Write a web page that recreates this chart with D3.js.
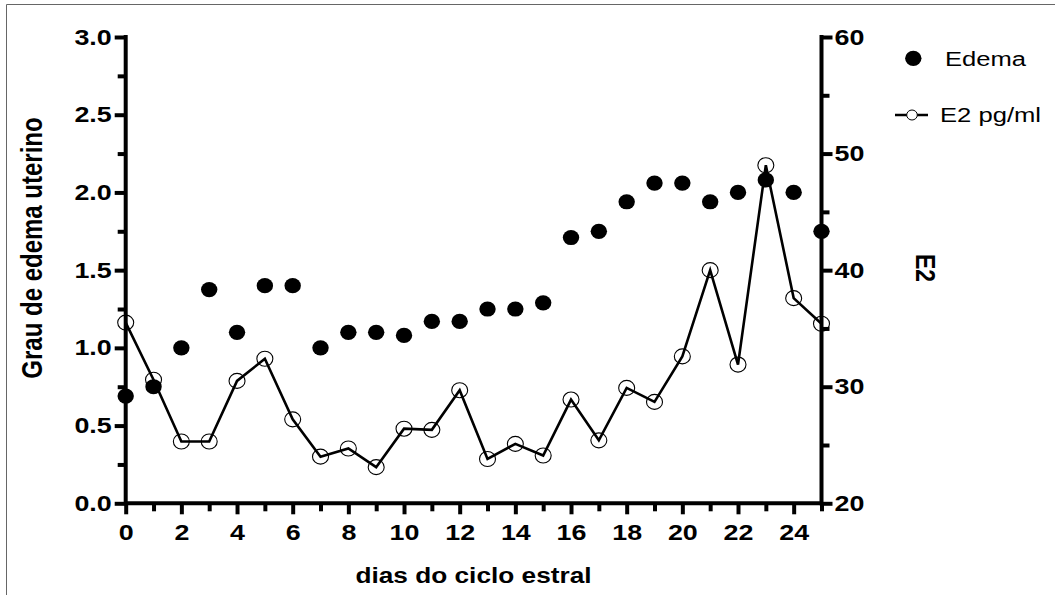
<!DOCTYPE html>
<html>
<head>
<meta charset="utf-8">
<script src="https://cdn.jsdelivr.net/npm/d3@7"></script>
<style>
  body { margin: 0; background: white; }
  svg { display: block; }
</style>
</head>
<body>
<div id="chart"></div>
<script>
// dias do ciclo estral
var days = d3.range(0, 26);
// grau de edema uterino (left axis)
var edema = [0.69, 0.75, 1.0, 1.375, 1.1, 1.4, 1.4, 1.0, 1.1, 1.1, 1.08, 1.17, 1.17,
             1.25, 1.25, 1.29, 1.71, 1.75, 1.94, 2.06, 2.06, 1.94, 2.0, 2.08, 2.0, 1.75];
// E2 pg/ml (right axis)
var e2 = [35.5, 30.6, 25.3, 25.3, 30.5, 32.4, 27.2, 24.0, 24.7, 23.1, 26.4, 26.3, 29.7,
          23.8, 25.1, 24.1, 28.9, 25.4, 29.9, 28.7, 32.6, 40.0, 31.9, 49.0, 37.6, 35.4];

var xMajor = d3.range(0, 26, 2);
var xMinor = d3.range(1, 26, 2);
var leftMajor = [0, 0.5, 1.0, 1.5, 2.0, 2.5, 3.0];
var leftMinor = [0.25, 0.75, 1.25, 1.75, 2.25, 2.75];
var rightMajor = [20, 30, 40, 50, 60];
var rightMinor = [25, 35, 45, 55];

var W = 1055, H = 595;
var SX = 1.22; // text in the reference is wider than tall
var font = "'Liberation Sans', Arial, Helvetica, sans-serif";

var svg = d3.select("#chart")
    .append("svg")
    .attr("width", W)
    .attr("height", H);

// frame
svg.append("line").attr("x1", 6.5).attr("x2", W).attr("y1", 4.5).attr("y2", 4.5)
    .style("stroke", "#666").style("stroke-width", 1);
svg.append("line").attr("x1", 6.5).attr("x2", 6.5).attr("y1", 4.5).attr("y2", H)
    .style("stroke", "#666").style("stroke-width", 1);

var x = d3.scaleLinear().domain([0, 25]).range([125.7, 821.5]);
var yL = d3.scaleLinear().domain([0, 3]).range([503.3, 37]);
var yR = d3.scaleLinear().domain([20, 60]).range([503.3, 37]);

function stretch(sel) {
    sel.each(function() {
        var t = d3.select(this);
        var tx = +t.attr("x") || 0;
        t.attr("x", tx / SX).attr("transform", "scale(" + SX + ",1)");
    });
}

function styleAxis(g) {
    g.select(".domain").remove();
    g.selectAll(".tick line").style("stroke", "black").style("stroke-width", 4);
    g.selectAll(".tick text")
        .style("font-family", font)
        .style("font-weight", "bold")
        .style("font-size", "22px")
        .style("fill", "black");
}

// minor ticks
svg.append("g").attr("transform", "translate(0," + yL(0) + ")")
    .call(d3.axisBottom(x).tickValues(xMinor).tickSize(8).tickFormat(""))
    .call(styleAxis);
svg.append("g").attr("transform", "translate(" + x(0) + ",0)")
    .call(d3.axisLeft(yL).tickValues(leftMinor).tickSize(8).tickFormat(""))
    .call(styleAxis);
svg.append("g").attr("transform", "translate(" + x(25) + ",0)")
    .call(d3.axisRight(yR).tickValues(rightMinor).tickSize(8).tickFormat(""))
    .call(styleAxis);

// major ticks
var gx = svg.append("g").attr("transform", "translate(0," + yL(0) + ")")
    .call(d3.axisBottom(x).tickValues(xMajor).tickSize(11).tickPadding(10).tickFormat(d3.format("d")))
    .call(styleAxis);
gx.selectAll(".tick text").call(stretch);

var gl = svg.append("g").attr("transform", "translate(" + x(0) + ",0)")
    .call(d3.axisLeft(yL).tickValues(leftMajor).tickSize(11).tickPadding(3).tickFormat(d3.format(".1f")))
    .call(styleAxis);
gl.selectAll(".tick text").call(stretch);

var gr = svg.append("g").attr("transform", "translate(" + x(25) + ",0)")
    .call(d3.axisRight(yR).tickValues(rightMajor).tickSize(11).tickPadding(2).tickFormat(d3.format("d")))
    .call(styleAxis);
gr.selectAll(".tick text").call(stretch);

// axis lines
svg.append("line").attr("x1", x(0)).attr("x2", x(25)).attr("y1", yL(0)).attr("y2", yL(0))
    .style("stroke", "black").style("stroke-width", 4);
svg.append("line").attr("x1", x(0)).attr("x2", x(0)).attr("y1", yL(3) - 2).attr("y2", yL(0) + 2)
    .style("stroke", "black").style("stroke-width", 4);
svg.append("line").attr("x1", x(25)).attr("x2", x(25)).attr("y1", yR(60) - 2).attr("y2", yR(20) + 2)
    .style("stroke", "black").style("stroke-width", 4);

// axis titles
svg.append("text")
    .attr("transform", "translate(" + 42 + "," + 248 + ") scale(" + SX + ",1) rotate(-90)")
    .attr("text-anchor", "middle")
    .style("font-family", font).style("font-weight", "bold").style("font-size", "24px")
    .text("Grau de edema uterino");

svg.append("text")
    .attr("transform", "translate(" + 916 + "," + 268 + ") scale(" + SX + ",1) rotate(90)")
    .attr("text-anchor", "middle")
    .style("font-family", font).style("font-weight", "bold").style("font-size", "23px")
    .text("E2");

svg.append("text")
    .attr("transform", "translate(" + 473.5 + "," + 583 + ") scale(" + SX + ",1)")
    .attr("text-anchor", "middle")
    .style("font-family", font).style("font-weight", "bold").style("font-size", "21.5px")
    .text("dias do ciclo estral");

// E2 line + open circles
var line = d3.line()
    .x(function(d, i) { return x(days[i]); })
    .y(function(d) { return yR(d); });

svg.append("path")
    .datum(e2)
    .attr("d", line)
    .style("fill", "none")
    .style("stroke", "black")
    .style("stroke-width", 2.6)
    .style("stroke-linejoin", "miter");

svg.append("g").selectAll("ellipse")
    .data(e2)
    .enter()
    .append("ellipse")
    .attr("cx", function(d, i) { return x(days[i]); })
    .attr("cy", function(d) { return yR(d); })
    .attr("rx", 8)
    .attr("ry", 7.5)
    .style("fill", "none")
    .style("stroke", "black")
    .style("stroke-width", 1.1);

// Edema dots
svg.append("g").selectAll("ellipse")
    .data(edema)
    .enter()
    .append("ellipse")
    .attr("cx", function(d, i) { return x(days[i]); })
    .attr("cy", function(d) { return yL(d); })
    .attr("rx", 8.2)
    .attr("ry", 7.6)
    .style("fill", "black");

// legend
var legend = svg.append("g");
legend.append("ellipse").attr("cx", 913.3).attr("cy", 58.3).attr("rx", 8.2).attr("ry", 7.6)
    .style("fill", "black");
legend.append("text").attr("x", 945).attr("y", 65.8)
    .call(stretch)
    .style("font-family", font).style("font-size", "21px")
    .text("Edema");
legend.append("line").attr("x1", 895).attr("x2", 928).attr("y1", 115).attr("y2", 115)
    .style("stroke", "black").style("stroke-width", 2.4);
legend.append("ellipse").attr("cx", 912).attr("cy", 115).attr("rx", 5.3).attr("ry", 5)
    .style("fill", "white").style("stroke", "black").style("stroke-width", 1);
legend.append("text").attr("x", 940).attr("y", 122.5)
    .call(stretch)
    .style("font-family", font).style("font-size", "21px")
    .text("E2 pg/ml");
</script>
</body>
</html>
